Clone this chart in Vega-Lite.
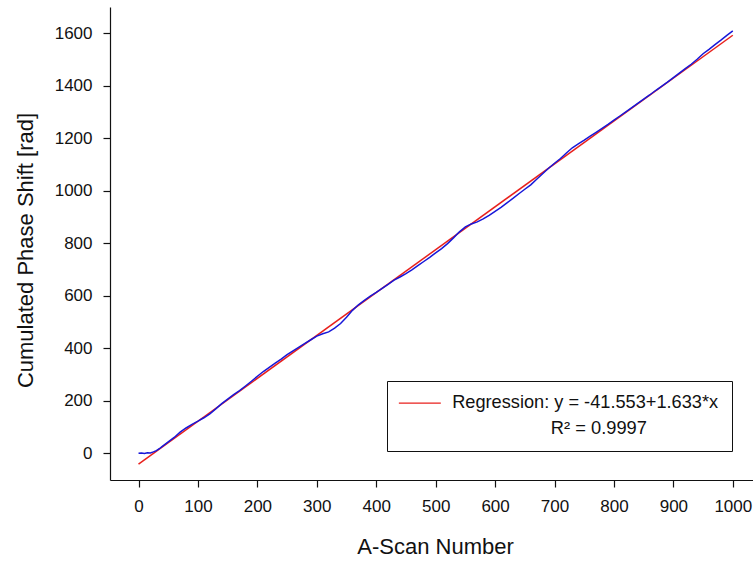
{
  "$schema": "https://vega.github.io/schema/vega-lite/v6.json",
  "autosize": "none",
  "width": 643,
  "height": 473,
  "padding": {"left": 110, "top": 7, "right": 0, "bottom": 81},
  "background": "white",
  "config": {
    "view": {"stroke": null},
    "font": "Liberation Sans",
    "axis": {"grid": false, "domainColor": "#111", "tickColor": "#111", "labelColor": "#111", "titleColor": "#111", "labelFont": "Liberation Sans", "titleFont": "Liberation Sans", "titleFontWeight": "normal", "domainWidth": 1.2, "tickWidth": 1.2, "format": "d"}
  },
  "datasets": {
    "measured": [
      {"scan": 0, "phase": 0}, {"scan": 5, "phase": 1}, {"scan": 10, "phase": -1}, {"scan": 15, "phase": 2}, {"scan": 20, "phase": 1},
      {"scan": 25, "phase": 5}, {"scan": 30, "phase": 10}, {"scan": 35, "phase": 17}, {"scan": 40, "phase": 26}, {"scan": 50, "phase": 43},
      {"scan": 60, "phase": 60}, {"scan": 70, "phase": 80}, {"scan": 80, "phase": 96}, {"scan": 90, "phase": 110}, {"scan": 100, "phase": 122},
      {"scan": 110, "phase": 135}, {"scan": 120, "phase": 150}, {"scan": 130, "phase": 169}, {"scan": 140, "phase": 189}, {"scan": 150, "phase": 206},
      {"scan": 160, "phase": 223}, {"scan": 170, "phase": 238}, {"scan": 180, "phase": 256}, {"scan": 190, "phase": 274}, {"scan": 200, "phase": 293},
      {"scan": 210, "phase": 311}, {"scan": 220, "phase": 327}, {"scan": 230, "phase": 343}, {"scan": 240, "phase": 358}, {"scan": 250, "phase": 375},
      {"scan": 260, "phase": 390}, {"scan": 270, "phase": 404}, {"scan": 280, "phase": 418}, {"scan": 290, "phase": 432}, {"scan": 300, "phase": 446},
      {"scan": 310, "phase": 455}, {"scan": 320, "phase": 462}, {"scan": 330, "phase": 476}, {"scan": 340, "phase": 494}, {"scan": 350, "phase": 518},
      {"scan": 360, "phase": 544}, {"scan": 370, "phase": 565}, {"scan": 380, "phase": 582}, {"scan": 390, "phase": 598}, {"scan": 400, "phase": 612},
      {"scan": 410, "phase": 628}, {"scan": 420, "phase": 643}, {"scan": 430, "phase": 659}, {"scan": 440, "phase": 671}, {"scan": 450, "phase": 684},
      {"scan": 460, "phase": 698}, {"scan": 470, "phase": 714}, {"scan": 480, "phase": 730}, {"scan": 490, "phase": 746}, {"scan": 500, "phase": 763},
      {"scan": 510, "phase": 779}, {"scan": 520, "phase": 798}, {"scan": 530, "phase": 820}, {"scan": 540, "phase": 843}, {"scan": 550, "phase": 862},
      {"scan": 560, "phase": 873}, {"scan": 570, "phase": 881}, {"scan": 580, "phase": 892}, {"scan": 590, "phase": 906}, {"scan": 600, "phase": 921},
      {"scan": 610, "phase": 936}, {"scan": 620, "phase": 953}, {"scan": 630, "phase": 970}, {"scan": 640, "phase": 988}, {"scan": 650, "phase": 1005},
      {"scan": 660, "phase": 1022}, {"scan": 670, "phase": 1043}, {"scan": 680, "phase": 1064}, {"scan": 690, "phase": 1085}, {"scan": 700, "phase": 1104},
      {"scan": 710, "phase": 1122}, {"scan": 720, "phase": 1143}, {"scan": 730, "phase": 1163}, {"scan": 740, "phase": 1178}, {"scan": 750, "phase": 1192},
      {"scan": 760, "phase": 1207}, {"scan": 770, "phase": 1222}, {"scan": 780, "phase": 1237}, {"scan": 790, "phase": 1252}, {"scan": 800, "phase": 1268},
      {"scan": 810, "phase": 1284}, {"scan": 820, "phase": 1300}, {"scan": 830, "phase": 1316}, {"scan": 840, "phase": 1332}, {"scan": 850, "phase": 1348},
      {"scan": 860, "phase": 1364}, {"scan": 870, "phase": 1381}, {"scan": 880, "phase": 1397}, {"scan": 890, "phase": 1413}, {"scan": 900, "phase": 1430},
      {"scan": 910, "phase": 1447}, {"scan": 920, "phase": 1464}, {"scan": 930, "phase": 1481}, {"scan": 940, "phase": 1500}, {"scan": 950, "phase": 1521},
      {"scan": 960, "phase": 1538}, {"scan": 970, "phase": 1556}, {"scan": 980, "phase": 1573}, {"scan": 990, "phase": 1591}, {"scan": 1000, "phase": 1608}
    ],
    "regression": [
      {"scan": 0, "phase": -41.553, "series": "Regression: y = -41.553+1.633*x"},
      {"scan": 1000, "phase": 1591.447, "series": "Regression: y = -41.553+1.633*x"}
    ]
  },
  "layer": [
    {
      "mark": {"type": "rule", "color": "#111", "strokeWidth": 1.2},
      "encoding": {"y": {"datum": 1699, "type": "quantitative", "scale": {"domain": [-102, 1699], "nice": false, "zero": false}}}
    },
    {
      "data": {"name": "regression"},
      "mark": {"type": "line", "strokeWidth": 1.5},
      "encoding": {
        "x": {"field": "scan", "type": "quantitative"},
        "y": {"field": "phase", "type": "quantitative"},
        "color": {
          "field": "series", "type": "nominal",
          "scale": {"range": ["#e8201c"]},
          "legend": {
            "orient": "none", "legendX": 277, "legendY": 374,
            "title": "R² = 0.9997\u00a0\u00a0\u00a0\u00a0\u00a0\u00a0\u00a0\u00a0\u00a0\u00a0\u00a0\u00a0\u00a0\u00a0\u200b", "titleOrient": "bottom", "titleAnchor": "end",
            "titleFontSize": 18.3, "titleFontWeight": "normal", "titleColor": "#111", "titleFont": "Liberation Sans", "titlePadding": 9,
            "labelFontSize": 18.2, "labelColor": "#111", "labelFont": "Liberation Sans", "labelOffset": 39, "labelLimit": 400,
            "symbolType": "M-1,0H7", "symbolSize": 110, "symbolStrokeWidth": 1.3, "symbolFillColor": "transparent", "symbolOffset": -5,
            "strokeColor": "#111", "fillColor": "white", "padding": 13
          }
        }
      }
    },
    {
      "data": {"name": "measured"},
      "mark": {"type": "line", "color": "#1717d9", "strokeWidth": 1.5},
      "encoding": {
        "x": {
          "field": "scan", "type": "quantitative",
          "scale": {"domain": [-48, 1034], "nice": false, "zero": false},
          "axis": {
            "title": "A-Scan Number", "values": [0, 100, 200, 300, 400, 500, 600, 700, 800, 900, 1000],
            "labelFontSize": 17, "tickSize": 7, "labelPadding": 11,
            "titleFontSize": 22, "titleX": 325, "titleY": 73, "titleBaseline": "alphabetic"
          }
        },
        "y": {
          "field": "phase", "type": "quantitative",
          "axis": {
            "title": "Cumulated Phase Shift [rad]", "values": [0, 200, 400, 600, 800, 1000, 1200, 1400, 1600],
            "labelFontSize": 17, "tickSize": 7, "labelPadding": 11,
            "titleFontSize": 22, "titleX": -78, "titleY": 243, "titleBaseline": "alphabetic"
          }
        }
      }
    }
  ]
}
